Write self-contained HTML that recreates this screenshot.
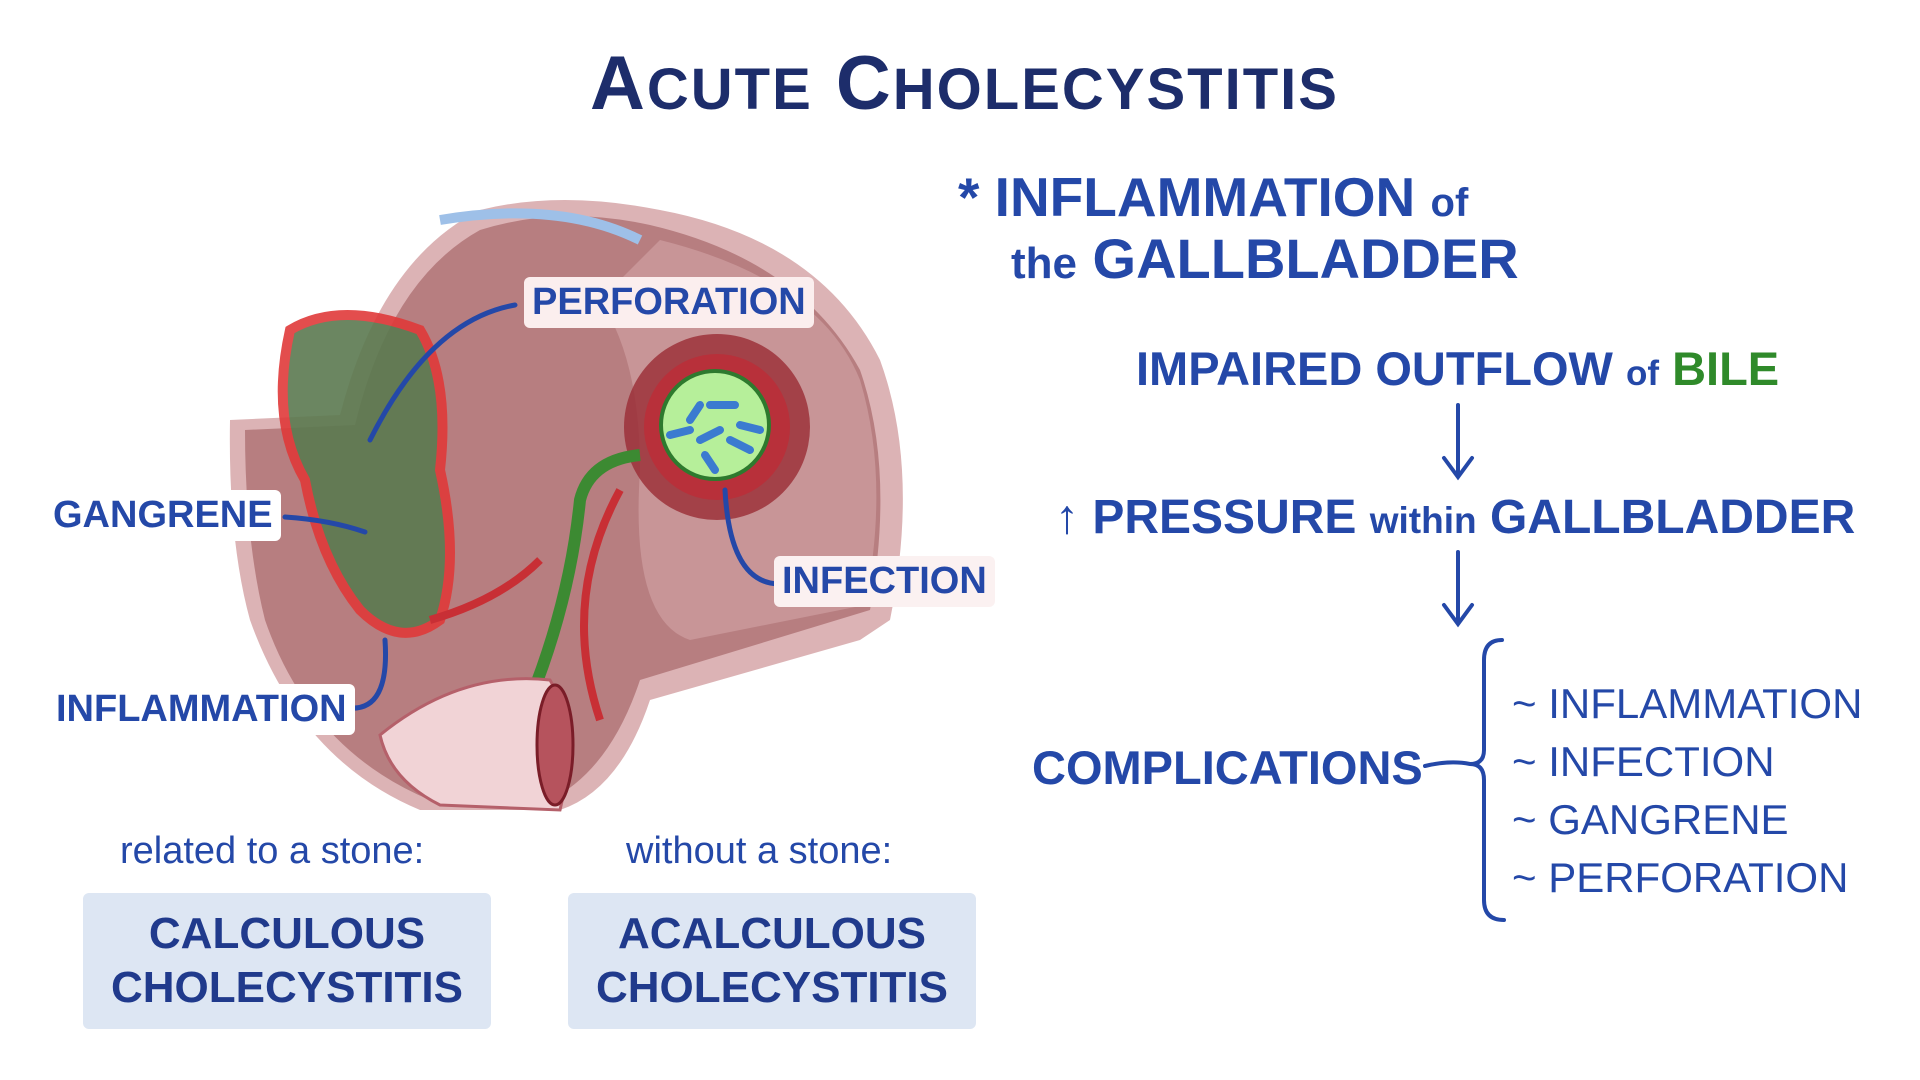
<!DOCTYPE html>
<html><head><meta charset="utf-8"><style>
body{margin:0;width:1920px;height:1080px;background:#fff;overflow:hidden;position:relative;font-family:"Liberation Sans",sans-serif}
.t{position:absolute;white-space:nowrap;color:#203a8c;font-weight:bold}
.box{position:absolute;background:#dde6f3;border-radius:6px;text-align:center;color:#203a8c;font-weight:bold;font-size:44px;line-height:54px;padding-top:14px;box-sizing:border-box}
.lab{position:absolute;background:#fbeeee;color:#2448a8;font-weight:bold;font-size:38px;border-radius:6px;padding:4px 8px;white-space:nowrap}
</style></head><body>
<div class="t" style="left:590px;top:40px;font-size:76px;color:#1d2d6b;letter-spacing:2px">A<span style="font-size:58px">CUTE</span> C<span style="font-size:58px">HOLECYSTITIS</span></div>
<div class="t" style="left:958px;top:165px;font-size:55px;color:#2448a8">* INFLAMMATION <span style="font-size:40px">of</span></div>
<div class="t" style="left:1011px;top:226px;font-size:56px;color:#2448a8"><span style="font-size:44px">the</span> GALLBLADDER</div>
<div class="t" style="left:1136px;top:341px;font-size:47px;color:#2448a8">IMPAIRED OUTFLOW <span style="font-size:35px">of</span> <span style="color:#2f8a2a">BILE</span></div>
<div class="t" style="left:1055px;top:490px;font-size:48px;color:#2448a8">↑ PRESSURE <span style="font-size:37px">within</span> GALLBLADDER</div>
<div class="t" style="left:1032px;top:740px;font-size:47px;color:#2448a8">COMPLICATIONS</div>
<div class="t" style="left:1512px;top:675px;font-size:42px;font-weight:normal;color:#2448a8;line-height:58px">~ INFLAMMATION<br>~ INFECTION<br>~ GANGRENE<br>~ PERFORATION</div>
<svg style="position:absolute;left:0;top:0" width="1920" height="1080">
<g stroke="#2448a8" stroke-width="4" fill="none" stroke-linecap="round">
<path d="M1458 405 V475 M1444 458 L1458 477 L1472 458"/>
<path d="M1458 552 V622 M1444 605 L1458 624 L1472 605"/>
<path d="M1502 640 Q1484 640 1484 660 V750 Q1484 764 1470 764 Q1484 764 1484 780 V900 Q1484 920 1504 920"/>
<path d="M1425 766 Q1450 760 1470 764"/>
</g>
<path d="M230 420 L340 415 Q380 260 480 210 Q560 190 660 210 Q820 240 880 360 Q920 470 890 620 L860 640 L650 700 Q620 790 560 810 L420 810 Q300 760 250 620 Q228 540 230 420Z" fill="#dcb3b5"/>
<path d="M245 430 L355 425 Q390 280 480 230 Q560 205 650 225 Q800 260 860 370 Q895 470 870 610 L640 680 Q610 770 550 800 L430 800 Q310 750 265 620 Q245 540 245 430Z" fill="#b77e80"/>
<path d="M660 240 Q820 280 860 380 Q890 480 865 605 L690 640 Q630 620 640 470 Q640 360 600 300Z" fill="#c89597"/>
<path d="M440 220 Q560 200 640 240" stroke="#9ec0e8" stroke-width="10" fill="none"/>
<circle cx="717" cy="427" r="93" fill="#9a2c34" opacity=".8"/>
<circle cx="717" cy="427" r="73" fill="#b8303a"/>
<circle cx="715" cy="425" r="54" fill="#b6ef9a" stroke="#2e7a2e" stroke-width="4"/>
<g stroke="#3b7bd0" stroke-width="8" stroke-linecap="round"><path d="M690 420 L700 405 M710 405 L735 405 M700 440 L720 430 M730 440 L750 450 M705 455 L715 470 M670 435 L690 430 M740 425 L760 430"/></g>
<path d="M290 330 Q340 300 420 330 Q450 380 440 470 Q460 560 440 620 Q400 650 360 610 Q320 560 305 480 Q270 420 290 330Z" fill="#5b7a50" stroke="#e03a3a" stroke-width="10" opacity=".9"/>
<path d="M530 700 Q570 600 580 500 Q590 460 640 455" stroke="#3c8a32" stroke-width="12" fill="none"/>
<path d="M600 720 Q560 600 620 490 M430 620 Q500 600 540 560" stroke="#c82f35" stroke-width="8" fill="none"/>
<path d="M380 735 Q460 670 550 680 Q580 730 560 810 L440 805 Q390 780 380 735Z" fill="#f1d3d6" stroke="#b5606a" stroke-width="3"/>
<ellipse cx="555" cy="745" rx="18" ry="60" fill="#b6535d" stroke="#7a1d28" stroke-width="3"/>
<g stroke="#2448a8" stroke-width="5" fill="none" stroke-linecap="round">
<path d="M515 305 Q430 320 370 440"/>
<path d="M285 517 Q330 520 365 532"/>
<path d="M348 708 Q390 712 385 640"/>
<path d="M780 584 Q730 584 725 490"/>
</g>
</svg>
<div class="lab" style="left:524px;top:277px">PERFORATION</div>
<div class="lab" style="left:45px;top:490px;background:#fff">GANGRENE</div>
<div class="lab" style="left:48px;top:684px;background:#fff">INFLAMMATION</div>
<div class="lab" style="left:774px;top:556px;background:#fbf1f1">INFECTION</div>
<div class="t" style="left:120px;top:830px;font-size:38px;font-weight:normal;color:#2448a8">related to a stone:</div>
<div class="t" style="left:626px;top:830px;font-size:38px;font-weight:normal;color:#2448a8">without a stone:</div>
<div class="box" style="left:83px;top:893px;width:408px;height:136px">CALCULOUS<br>CHOLECYSTITIS</div>
<div class="box" style="left:568px;top:893px;width:408px;height:136px">ACALCULOUS<br>CHOLECYSTITIS</div>
</body></html>
